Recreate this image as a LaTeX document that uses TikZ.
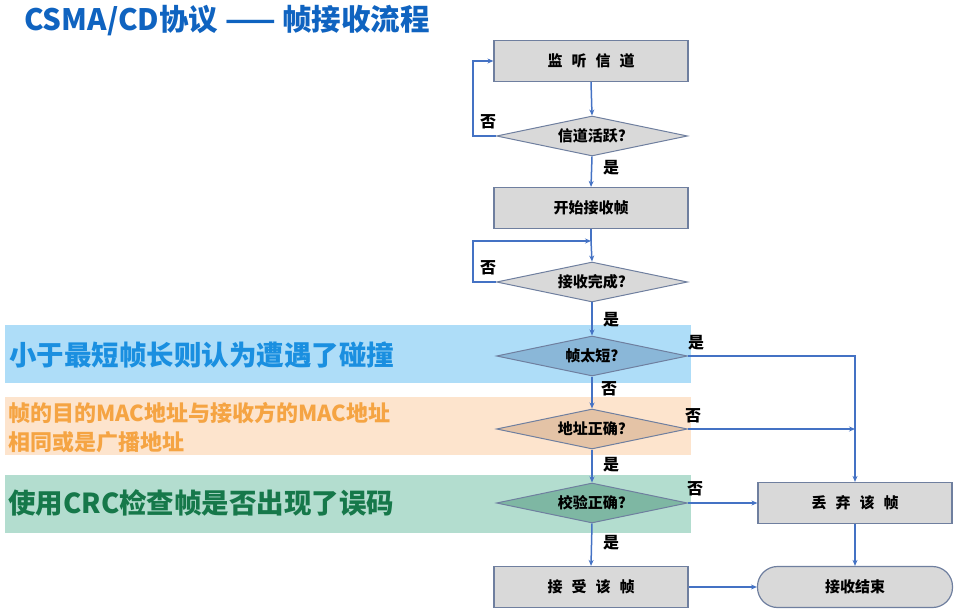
\documentclass[tikz,border=0pt]{standalone}
\usepackage{fontspec}
\setmainfont{Noto Sans CJK SC}
\usetikzlibrary{shapes.geometric,arrows.meta}
\definecolor{lineblue}{HTML}{4472C4}
\definecolor{boxgray}{HTML}{D9D9D9}
\definecolor{boxedge}{HTML}{6F7F9F}
\definecolor{titleblue}{HTML}{0F63C0}
\definecolor{bandblue}{HTML}{AEDDF8}
\definecolor{bandorange}{HTML}{FDE4CD}
\definecolor{bandgreen}{HTML}{B3DDCF}
\definecolor{txtblue}{HTML}{1A8FE0}
\definecolor{txtorange}{HTML}{F5A443}
\definecolor{txtgreen}{HTML}{16784A}
\definecolor{dblue}{HTML}{8AB7D8}
\definecolor{dorange}{HTML}{E4C3A6}
\definecolor{dgreen}{HTML}{7EB7A3}
\tikzset{
  procbox/.style={draw=boxedge, fill=boxgray, line width=1.2pt, minimum width=194pt, minimum height=41pt, inner sep=0pt, font=\fontsize{15}{17}\selectfont\bfseries},
  decision/.style={diamond, draw=boxedge, line width=1pt, aspect=4.8, minimum width=191pt, minimum height=40pt, inner sep=0pt, font=\fontsize{15}{17}\selectfont\bfseries},
  termbox/.style={draw=boxedge, fill=boxgray, line width=1.2pt, rounded corners=20pt, minimum width=195pt, minimum height=41pt, inner sep=0pt, font=\fontsize{15}{17}\selectfont\bfseries},
  flow/.style={draw=lineblue, line width=1.5pt, -{Stealth[length=6pt,width=5pt]}},
  plain/.style={draw=lineblue, line width=1.5pt},
  yn/.style={font=\fontsize{16}{18}\selectfont\bfseries, inner sep=0pt},
  band/.style={inner sep=0pt, anchor=north west},
}
\begin{document}
\begin{tikzpicture}[x=1pt,y=-1pt]
\useasboundingbox (0,0) rectangle (960,609);
% title
\node[anchor=west, text=titleblue, font=\fontsize{29.5}{32}\selectfont\bfseries, inner sep=0pt] (title) at (24,21) {CSMA/CD协议 —— 帧接收流程};
% bands
\node[band, fill=bandblue, minimum width=686pt, minimum height=58pt] (bandA) at (5,325) {};
\node[band, fill=bandorange, minimum width=686pt, minimum height=58pt] (bandB) at (5,397) {};
\node[band, fill=bandgreen, minimum width=686pt, minimum height=58pt] (bandC) at (5,475) {};
\node[anchor=west, text=txtblue, font=\fontsize{27.5}{30}\selectfont\bfseries, inner sep=0pt] (tA) at (9,355) {小于最短帧长则认为遭遇了碰撞};
\node[anchor=west, text=txtorange, font=\fontsize{22}{29}\selectfont\bfseries, inner sep=0pt, align=left] (tB) at (8,428) {帧的目的MAC地址与接收方的MAC地址\\相同或是广播地址};
\node[anchor=west, text=txtgreen, font=\fontsize{27.5}{30}\selectfont\bfseries, inner sep=0pt] (tC) at (8,503) {使用CRC检查帧是否出现了误码};
% nodes
\node[procbox] (listen) at (591,61) {监\hspace{0.6em}听\hspace{0.6em}信\hspace{0.6em}道};
\node[decision, fill=boxgray] (active) at (592,136) {信道活跃?};
\node[procbox] (start) at (591,208) {开始接收帧};
\node[decision, fill=boxgray] (done) at (592,282) {接收完成?};
\node[decision, fill=dblue] (short) at (592,356) {帧太短?};
\node[decision, fill=dorange] (addr) at (592,429) {地址正确?};
\node[decision, fill=dgreen] (crc) at (592,503) {校验正确?};
\node[procbox] (discard) at (855,503) {丢\hspace{0.6em}弃\hspace{0.6em}该\hspace{0.6em}帧};
\node[procbox] (accept) at (591,587) {接\hspace{0.6em}受\hspace{0.6em}该\hspace{0.6em}帧};
\node[termbox] (finish) at (855,587) {接收结束};
\coordinate (join) at (591,241);
\coordinate (side) at (855,429);
% connectors
\draw[flow] (listen.south) -- (active.north);
\draw[flow] (active.west) -- ++(-23,0) |- (listen.west);
\draw[flow] (active.south) -- (start.north);
\draw[plain] (start.south) -- (join);
\draw[flow] (join) -- (done.north);
\draw[flow] (done.west) -- ++(-23,0) |- (join);
\draw[flow] (done.south) -- (short.north);
\draw[flow] (short.east) -| (discard.north);
\draw[flow] (short.south) -- (addr.north);
\draw[flow] (addr.east) -- (side);
\draw[flow] (addr.south) -- (crc.north);
\draw[flow] (crc.east) -- (discard.west);
\draw[flow] (crc.south) -- (accept.north);
\draw[flow] (accept.east) -- (finish.west);
\draw[flow] (discard.south) -- (finish.north);
% labels
\node[yn] (n1) at (488,122) {否};
\node[yn] (y1) at (611,168) {是};
\node[yn] (n2) at (488,268) {否};
\node[yn] (y2) at (611,320) {是};
\node[yn] (y3) at (696,343) {是};
\node[yn] (n3) at (609,389) {否};
\node[yn] (n4) at (693,416) {否};
\node[yn] (y4) at (611,465) {是};
\node[yn] (n5) at (695,489) {否};
\node[yn] (y5) at (611,543) {是};
\end{tikzpicture}
\end{document}
